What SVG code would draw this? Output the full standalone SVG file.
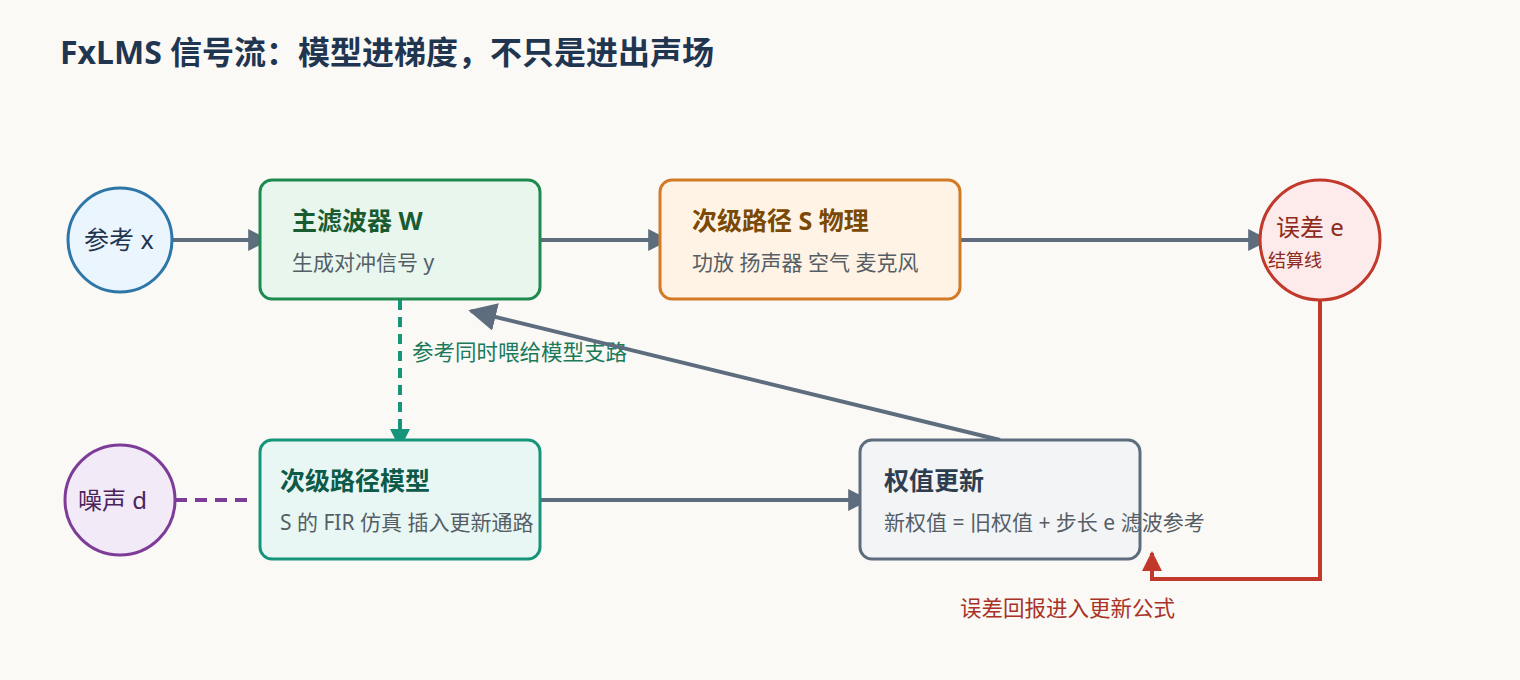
<svg xmlns="http://www.w3.org/2000/svg" width="1520" height="680" viewBox="0 0 1520 680">
<defs>
<style>
text{font-family:"Noto Sans","Noto Sans CJK SC",sans-serif}
.t{font-size:25px;font-weight:bold}
.s{font-size:21px;fill:#555e66}
.c{fill:none;stroke:#5d6d7e;stroke-width:4}
</style>
<marker id="ag" viewBox="0 0 10 10" refX="9" refY="5" markerWidth="5.5" markerHeight="5.5" orient="auto"><path d="M0,0L10,5L0,10z" fill="#5d6d7e"/></marker>
<marker id="ab" viewBox="0 0 10 10" refX="9" refY="5" markerWidth="7" markerHeight="7" orient="auto"><path d="M0,0L10,5L0,10z" fill="#5d6d7e"/></marker>
<marker id="at" viewBox="0 0 10 10" refX="9" refY="5" markerWidth="5" markerHeight="5" orient="auto"><path d="M0,0L10,5L0,10z" fill="#17957a"/></marker>
<marker id="ar" viewBox="0 0 10 10" refX="9" refY="5" markerWidth="5" markerHeight="5" orient="auto"><path d="M0,0L10,5L0,10z" fill="#c0392b"/></marker>
</defs>
<rect width="1520" height="680" fill="#faf9f6"/>
<text x="60" y="64" font-size="32" font-weight="bold" fill="#1f3550">FxLMS 信号流：模型进梯度，不只是进出声场</text>
<g id="connectors">
<line class="c" x1="172" y1="240" x2="268" y2="240" marker-end="url(#ag)"/>
<line class="c" x1="540" y1="240" x2="668" y2="240" marker-end="url(#ag)"/>
<line class="c" x1="960" y1="240" x2="1268" y2="240" marker-end="url(#ag)"/>
<line x1="400" y1="300" x2="400" y2="447" stroke="#17957a" stroke-width="4" stroke-dasharray="10 7" marker-end="url(#at)"/>
<text x="412" y="360" font-size="21.5" fill="#1b7a5a">参考同时喂给模型支路</text>
<line x1="175" y1="500" x2="248" y2="500" stroke="#7d3c98" stroke-width="4" stroke-dasharray="12 8"/>
<line class="c" x1="540" y1="500" x2="868" y2="500" marker-end="url(#ag)"/>
<line class="c" x1="1000" y1="440" x2="471" y2="311" marker-end="url(#ab)"/>
<polyline points="1320,300 1320,579 1152,579 1152,553" fill="none" stroke="#c0392b" stroke-width="4" marker-end="url(#ar)"/>
<text x="960" y="616" font-size="21.5" fill="#a93226">误差回报进入更新公式</text>
</g>
<g id="ref"><circle cx="120" cy="240" r="52" fill="#ebf5fd" stroke="#2e75a8" stroke-width="3"/><text x="84" y="249" font-size="25" fill="#1f3550">参考 x</text></g>
<g id="W"><rect x="260" y="180" width="280" height="119" rx="12" fill="#e8f6ee" stroke="#1e8a4f" stroke-width="3"/><text class="t" x="292" y="230" fill="#1a5c32">主滤波器 W</text><text class="s" x="292" y="270">生成对冲信号 y</text></g>
<g id="S"><rect x="660" y="180" width="300" height="119" rx="12" fill="#fef3e4" stroke="#d27a25" stroke-width="3"/><text class="t" x="692" y="230" fill="#7a4a05">次级路径 S 物理</text><text class="s" x="692" y="270">功放 扬声器 空气 麦克风</text></g>
<g id="err"><circle cx="1320" cy="240" r="60" fill="#fdeaea" stroke="#c0392b" stroke-width="3"/><text x="1276" y="236" font-size="24" fill="#8e2a20">误差 e</text><text x="1268" y="267" font-size="18" fill="#8e2a20">结算线</text></g>
<g id="noise"><circle cx="120" cy="500" r="55" fill="#f3eaf7" stroke="#7d3c98" stroke-width="3"/><text x="78" y="509" font-size="24" fill="#4a235a">噪声 d</text></g>
<g id="model"><rect x="260" y="440" width="280" height="119" rx="12" fill="#e8f7f3" stroke="#17957a" stroke-width="3"/><text class="t" x="280" y="490" fill="#0e5a48">次级路径模型</text><text class="s" x="280" y="530">S 的 FIR 仿真 插入更新通路</text></g>
<g id="update"><rect x="860" y="440" width="280" height="119" rx="12" fill="#f2f4f5" stroke="#5d6d7e" stroke-width="3"/><text class="t" x="884" y="490" fill="#2c3e50">权值更新</text><text class="s" x="884" y="530">新权值 = 旧权值 + 步长 e 滤波参考</text></g>
</svg>
